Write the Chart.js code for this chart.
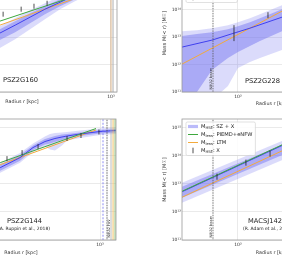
<!DOCTYPE html>
<html><head><meta charset="utf-8">
<script src="https://cdn.jsdelivr.net/npm/chart.js@4.4.1/dist/chart.umd.min.js"></script>
<style>
html,body{margin:0;padding:0;overflow:hidden;background:#fff}
body{position:relative;width:282px;height:260px}
canvas{position:absolute;display:block}
</style></head><body>
<canvas id="c160"></canvas><canvas id="c228"></canvas><canvas id="c144"></canvas><canvas id="c1423"></canvas>
<script>
// ================= DATA (radius in kpc, mass in solar masses) =================
const yTickValues = [1e11, 1e12, 1e13, 1e14, 1e15];
const xTickValues = [1e2, 1e3];

// ---- PSZ2G160 (top left) ----
const g160_r      = [108, 129, 171, 225, 296, 391, 515, 679];
const g160_hse    = [9.20e12, 1.40e13, 2.73e13, 5.33e13, 1.04e14, 1.87e14, 3.37e14, 6.05e14];
const g160_hse68u = [1.29e13, 1.95e13, 3.82e13, 7.46e13, 1.34e14, 2.41e14, 4.33e14, 7.78e14];
const g160_hse68l = [4.71e12, 7.78e12, 1.52e13, 3.23e13, 6.85e13, 1.34e14, 2.41e14, 4.33e14];
const g160_hse95u = [1.65e13, 2.51e13, 4.91e13, 9.59e13, 1.72e14, 3.10e14, 5.56e14, 1.00e15];
const g160_hse95l = [2.62e12, 3.98e12, 8.45e12, 1.95e13, 4.52e13, 1.04e14, 2.04e14, 3.66e14];
const g160_pie_r  = [108, 129, 413, 679];
const g160_pie    = [2.90e13, 3.82e13, 2.21e14, 4.71e14];
const g160_ltm_r  = [108, 129, 470, 679];
const g160_ltm    = [2.02e13, 2.73e13, 2.21e14, 4.02e14];
const g160_x_r    = [137, 191, 242, 308];
const g160_x_lo   = [5.56e13, 8.45e13, 1.09e14, 1.40e14];
const g160_x_hi   = [8.45e13, 1.29e14, 1.65e14, 2.12e14];
const g160_rlines = [1000, 1038];

// ---- PSZ2G228 (top right) ----
const g228_r      = [29.3, 40.7, 56.5, 80.3, 100, 130, 162, 262, 320];
const g228_hse95u = [1.65e13, 1.80e13, 2.12e13, 2.73e13, 3.51e13, 4.91e13, 6.85e13, 1.46e14, 2.04e14];
const g228_hse68u = [1.09e13, 1.29e13, 1.52e13, 1.95e13, 2.51e13, 3.51e13, 4.91e13, 1.04e14, 1.46e14];
const g228_hse68l = [2.21e10, 1.00e11, 6.31e11, 1.72e12, 2.85e12, 4.71e12, 7.16e12, 1.65e13, 2.12e13];
const g228_hse95l = [1.0e10, 1.0e10, 5.0e10, 1.65e11, 7.46e11, 1.23e12, 1.72e12, 3.37e12, 3.98e12];
const g228_hse_r  = [29.3, 56.5, 91.6, 130, 262, 320];
const g228_hse    = [4.33e12, 7.78e12, 1.40e13, 2.12e13, 5.33e13, 6.97e13];
const g228_ltm_r  = [29.3, 320];
const g228_ltm    = [1.04e12, 1.32e14];
const g228_x_r    = [91.6, 193];
const g228_x_lo   = [7.16e12, 4.91e13];
const g228_x_hi   = [2.73e13, 8.11e13];
const g228_beam   = [57.8];

// ---- PSZ2G144 (bottom left) ----
const g144_r      = [89.6, 112, 173, 230, 299, 334, 372, 434, 485, 646, 1000, 1420];
const g144_hse    = [2.47e13, 3.72e13, 8.49e13, 1.93e14, 3.16e14, 3.58e14, 4.05e14, 4.58e14, 4.97e14, 5.86e14, 7.19e14, 7.82e14];
const g144_hse68u = [3.16e13, 4.77e13, 1.04e14, 2.28e14, 3.88e14, 4.40e14, 4.97e14, 5.62e14, 5.86e14, 6.62e14, 8.15e14, 8.83e14];
const g144_hse68l = [1.93e13, 2.91e13, 6.62e13, 1.57e14, 2.47e14, 2.69e14, 3.03e14, 3.58e14, 4.05e14, 4.97e14, 6.11e14, 6.62e14];
const g144_hse95u = [3.72e13, 5.62e13, 1.23e14, 2.69e14, 4.77e14, 5.86e14, 6.37e14, 6.62e14, 6.90e14, 7.82e14, 9.20e14, 1.00e15];
const g144_hse95l = [1.64e13, 2.47e13, 5.62e13, 1.33e14, 2.09e14, 1.64e14, 1.51e14, 2.28e14, 3.44e14, 4.22e14, 5.40e14, 5.86e14];
const g144_pie_r  = [89.6, 112, 916];
const g144_pie    = [4.26e13, 5.62e13, 9.20e14];
const g144_ltm_r  = [89.6, 112, 916];
const g144_ltm    = [3.55e13, 4.77e13, 8.15e14];
const g144_x_r    = [130, 181, 257, 485, 659, 977];
const g144_x_lo   = [6.37e13, 1.04e14, 1.71e14, 3.30e14, 4.22e14, 5.62e14];
const g144_x_hi   = [9.59e13, 1.57e14, 2.58e14, 4.97e14, 6.37e14, 8.49e14];
const g144_rlines = [1068, 1166, 1273, 1331, 1390];

// ---- MACSJ1423 (bottom right) ----
const m1423_r      = [29.3, 389];
const m1423_hse    = [5.18e12, 4.51e14];
const m1423_hse68u = [7.82e12, 4.40e14];
const m1423_hse68l = [3.16e12, 1.93e14];
const m1423_hse95u = [1.09e13, 6.11e14];
const m1423_hse95l = [2.09e12, 1.28e14];
const m1423_pie    = [5.40e12, 4.77e14];
const m1423_ltm    = [3.30e12, 2.91e14];
const m1423_x_r    = [63.1, 119, 202];
const m1423_x_lo   = [1.39e13, 4.39e13, 9.20e13];
const m1423_x_hi   = [2.28e13, 7.19e13, 1.51e14];
const m1423_beam   = [57.8];

// ================= STYLE =================
const FONT = 'DejaVu Sans';
const C = {
  blue:'#4040ee', green:'#3ea83e', orange:'#f3aa3c',
  band95:'rgba(110,110,240,0.25)', band68:'rgba(110,110,240,0.45)',
  err:'#222', grid:'#e4e4e4', frame:'#9a9a9a', text:'#1a1a1a'
};
const LEG = {
  band:  {kind:'band', sub:'HSE', rest:': SZ + X'},
  green: {kind:'line', color:C.green, sub:'lens', rest:': PIEMD+eNFW'},
  orange:{kind:'line', color:C.orange, sub:'lens', rest:': LTM'},
  err:   {kind:'err', sub:'HSE', rest:': X'}
};
const SUP = {'0':'⁰','1':'¹','2':'²','3':'³','4':'⁴','5':'⁵','6':'⁶','7':'⁷','8':'⁸','9':'⁹','-':'⁻'};
const sup = n => String(n).split('').map(c => SUP[c]).join('');

function P(r, m){ return r.map((v,i) => ({x:v, y:m[i]})); }
function E(r, lo, hi){ const o=[]; r.forEach((v,i) => { o.push({x:v,y:lo[i]},{x:v,y:hi[i]},{x:v,y:null}); }); return o; }

function drawLegend(ctx, ca, items){
  const fm = `5.2px "${FONT}"`, fs = `3.7px "${FONT}"`;
  let maxW = 0;
  const ws = items.map(it => {
    ctx.font = fm; const a = ctx.measureText('M').width, c = ctx.measureText(it.rest).width;
    ctx.font = fs; const b = ctx.measureText(it.sub).width;
    maxW = Math.max(maxW, a+b+c); return [a,b,c];
  });
  const x0 = ca.left + 4, y0 = ca.top + 3, w = 15 + maxW + 3, h = items.length*8 + 1.5;
  ctx.beginPath(); ctx.roundRect(x0, y0, w, h, 1.5);
  ctx.fillStyle = 'rgba(255,255,255,0.85)'; ctx.fill();
  ctx.strokeStyle = '#cccccc'; ctx.lineWidth = 0.6; ctx.stroke();
  items.forEach((it, i) => {
    const y = y0 + 4.5 + i*8;
    if (it.kind === 'band') { ctx.fillStyle = 'rgba(120,120,245,0.5)'; ctx.fillRect(x0+2, y-1.6, 10, 3.2); }
    else if (it.kind === 'err') { ctx.strokeStyle = C.err; ctx.lineWidth = 0.8; ctx.beginPath(); ctx.moveTo(x0+7, y-2.8); ctx.lineTo(x0+7, y+2.8); ctx.stroke(); }
    else { ctx.strokeStyle = it.color; ctx.lineWidth = 1; ctx.beginPath(); ctx.moveTo(x0+2, y); ctx.lineTo(x0+12, y); ctx.stroke(); }
    ctx.fillStyle = C.text; ctx.textAlign = 'left'; ctx.textBaseline = 'middle';
    let x = x0 + 15;
    ctx.font = fm; ctx.fillText('M', x, y); x += ws[i][0];
    ctx.font = fs; ctx.fillText(it.sub, x, y + 1.4); x += ws[i][1];
    ctx.font = fm; ctx.fillText(it.rest, x, y);
  });
}

const deco = {
  id: 'deco',
  afterDraw(chart, args, o){
    const ctx = chart.ctx, ca = chart.chartArea, xs = chart.scales.x;
    ctx.save();
    ctx.strokeStyle = C.frame; ctx.lineWidth = 0.8;
    ctx.strokeRect(ca.left, ca.top, ca.right-ca.left, ca.bottom-ca.top);
    (o.vlabels || []).forEach(v => {
      const x = xs.getPixelForValue(v.r);
      ctx.save();
      ctx.translate(v.side === 'left' ? x - 0.6 : x + 0.6, ca.bottom - 2.5);
      ctx.rotate(-Math.PI/2);
      ctx.font = `3.5px "${FONT}"`; ctx.fillStyle = '#333';
      ctx.textAlign = 'left'; ctx.textBaseline = v.side === 'left' ? 'bottom' : 'top';
      ctx.fillText(v.text, 0, 0);
      ctx.restore();
    });
    (o.texts || []).forEach(t => {
      ctx.font = `${t.size}px "${FONT}"`; ctx.fillStyle = C.text;
      ctx.textAlign = t.align; ctx.textBaseline = 'middle';
      ctx.fillText(t.text, ca.left + t.fx*(ca.right-ca.left), ca.top + t.fy*(ca.bottom-ca.top));
    });
    if (o.legend) drawLegend(ctx, ca, o.legend);
    ctx.restore();
  }
};

function buildPanel(id, g, s, deco_opts){
  const YW = 24, PT = 6, PR = 2;
  const cv = document.getElementById(id);
  cv.width = YW + g.w + PR; cv.height = PT + g.h + g.xh;
  cv.style.left = (g.left - YW) + 'px'; cv.style.top = (g.top - PT) + 'px';
  const line = (data, color, order, extra) => Object.assign({data, borderColor:color, borderWidth:1, pointRadius:0, fill:false, order, tension:0}, extra || {});
  const ds = [
    {data:P(s.r, s.u95), borderWidth:0, pointRadius:0, backgroundColor:C.band95, fill:'+1', order:10},
    {data:P(s.r, s.l95), borderWidth:0, pointRadius:0, fill:false, order:10},
    {data:P(s.r, s.u68), borderWidth:0, pointRadius:0, backgroundColor:C.band68, fill:'+1', order:9},
    {data:P(s.r, s.l68), borderWidth:0, pointRadius:0, fill:false, order:9}
  ];
  if (s.ltm) ds.push(line(P(s.ltm_r, s.ltm), C.orange, 6));
  ds.push(line(P(s.hse_r, s.hse), C.blue, 5));
  if (s.pie) ds.push(line(P(s.pie_r, s.pie), C.green, 4));
  ds.push(line(E(s.x_r, s.x_lo, s.x_hi), C.err, 3, {borderWidth:0.8}));
  s.vlines.forEach(v => ds.push(line([{x:v.r, y:1e9}, {x:v.r, y:1e17}], v.color, 2, {borderWidth:0.8, borderDash:v.dash || []})));
  const tickFont = {family:FONT, size:4.5};
  new Chart(cv, {
    type:'line',
    data:{datasets:ds},
    options:{
      responsive:false, animation:false, devicePixelRatio:1, events:[],
      layout:{padding:{top:PT, right:PR, left:0, bottom:0}},
      plugins:{legend:{display:false}, tooltip:{enabled:false}, deco:deco_opts},
      scales:{
        x:{type:'logarithmic', min:g.xmin, max:g.xmax,
           afterBuildTicks: sc => { sc.ticks = xTickValues.filter(v => v >= g.xmin && v <= g.xmax).map(v => ({value:v})); },
           afterFit: sc => { sc.height = g.xh; },
           grid:{color:C.grid, lineWidth:0.8, drawTicks:false}, border:{display:false},
           ticks:{callback: v => '10' + sup(Math.round(Math.log10(v))), font:tickFont, color:'#333', padding:2, maxRotation:0, autoSkip:false},
           title:{display:true, text:'Radius r [kpc]', font:{family:FONT, size:4.8}, color:'#333', padding:{top:0, bottom:0}}},
        y:{type:'logarithmic', min:1e11, max:2e15,
           afterBuildTicks: sc => { sc.ticks = yTickValues.map(v => ({value:v})); },
           afterFit: sc => { sc.width = YW; },
           grid:{color:C.grid, lineWidth:0.8, drawTicks:false}, border:{display:false},
           ticks:{callback: v => '10' + sup(Math.round(Math.log10(v))), font:tickFont, color:'#333', padding:1, autoSkip:false},
           title:{display:true, text:'Mass M(< r) [M\u2609]', font:{family:FONT, size:5}, color:'#333', padding:{top:4, bottom:0}}}
      }
    },
    plugins:[deco]
  });
}

// ---- PSZ2G160 ----
buildPanel('c160', {left:-73, top:-26, w:190, h:118, xh:13, xmin:33.7, xmax:1117}, {
  r:g160_r, u95:g160_hse95u, l95:g160_hse95l, u68:g160_hse68u, l68:g160_hse68l,
  hse_r:g160_r, hse:g160_hse, pie_r:g160_pie_r, pie:g160_pie, ltm_r:g160_ltm_r, ltm:g160_ltm,
  x_r:g160_x_r, x_lo:g160_x_lo, x_hi:g160_x_hi,
  vlines:[{r:g160_rlines[0], color:'#d2a06a'}, {r:g160_rlines[1], color:'#9a9a9a'}]
}, {texts:[{text:'PSZ2G160', fx:0.584, fy:0.898, size:6.7, align:'right'}]});

// ---- PSZ2G228 ----
buildPanel('c228', {left:182, top:-26, w:181, h:118, xh:15, xmin:29.3, xmax:1550}, {
  r:g228_r, u95:g228_hse95u, l95:g228_hse95l, u68:g228_hse68u, l68:g228_hse68l,
  hse_r:g228_hse_r, hse:g228_hse, ltm_r:g228_ltm_r, ltm:g228_ltm,
  x_r:g228_x_r, x_lo:g228_x_lo, x_hi:g228_x_hi,
  vlines:[{r:g228_beam[0], color:'#555', dash:[1.5,1]}]
}, {texts:[{text:'PSZ2G228', fx:0.348, fy:0.907, size:6.7, align:'left'}],
    vlabels:[{r:g228_beam[0], text:'NIKA2 beam', side:'left'}],
    legend:[LEG.band, LEG.orange, LEG.err]});

// ---- PSZ2G144 ----
buildPanel('c144', {left:-74, top:119, w:190, h:121, xh:16, xmin:22.0, xmax:1420}, {
  r:g144_r, u95:g144_hse95u, l95:g144_hse95l, u68:g144_hse68u, l68:g144_hse68l,
  hse_r:g144_r, hse:g144_hse, pie_r:g144_pie_r, pie:g144_pie, ltm_r:g144_ltm_r, ltm:g144_ltm,
  x_r:g144_x_r, x_lo:g144_x_lo, x_hi:g144_x_hi,
  vlines:[{r:g144_rlines[0], color:'#7070f0', dash:[2,1.5]}, {r:g144_rlines[1], color:'#444', dash:[1.5,1]},
          {r:g144_rlines[2], color:'#aaaaaa'}, {r:g144_rlines[3], color:'#e9b040'}, {r:g144_rlines[4], color:'#7ab85a'}]
}, {texts:[{text:'PSZ2G144', fx:0.611, fy:0.843, size:6.7, align:'right'},
           {text:'(A. Ruppin et al., 2018)', fx:0.653, fy:0.909, size:4.5, align:'right'}],
    vlabels:[{r:g144_rlines[1], text:'NIKA2 FoV', side:'right'}],
    legend:[LEG.band, LEG.green, LEG.orange, LEG.err]});

// ---- MACSJ1423 ----
buildPanel('c1423', {left:182, top:119, w:181, h:121, xh:16, xmin:29.3, xmax:1550}, {
  r:m1423_r, u95:m1423_hse95u, l95:m1423_hse95l, u68:m1423_hse68u, l68:m1423_hse68l,
  hse_r:m1423_r, hse:m1423_hse, pie_r:m1423_r, pie:m1423_pie, ltm_r:m1423_r, ltm:m1423_ltm,
  x_r:m1423_x_r, x_lo:m1423_x_lo, x_hi:m1423_x_hi,
  vlines:[{r:m1423_beam[0], color:'#555', dash:[1.5,1]}]
}, {texts:[{text:'MACSJ1423', fx:0.365, fy:0.843, size:6.7, align:'left'},
           {text:'(R. Adam et al., 2023)', fx:0.337, fy:0.909, size:4.5, align:'left'}],
    vlabels:[{r:m1423_beam[0], text:'NIKA2 beam', side:'left'}],
    legend:[LEG.band, LEG.green, LEG.orange, LEG.err]});
</script>
</body></html>
